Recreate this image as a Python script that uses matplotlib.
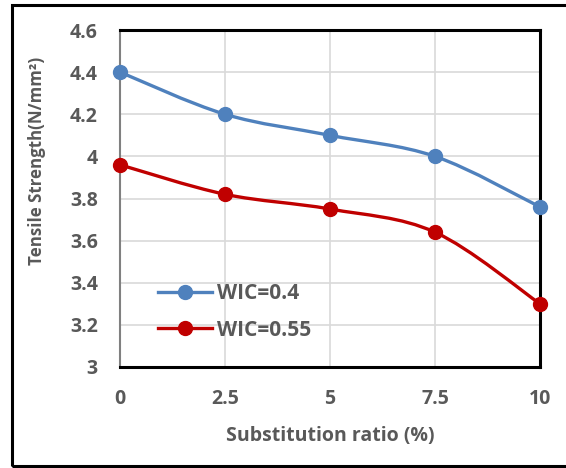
import numpy as np
import matplotlib
matplotlib.use("Agg")
import matplotlib.pyplot as plt
from matplotlib.path import Path
from matplotlib.patches import PathPatch, Rectangle
from matplotlib.lines import Line2D

plt.rcParams['font.family'] = ['Open Sans', 'DejaVu Sans']

ratio = [0, 2.5, 5, 7.5, 10]
ratio_labels = ["0", "2.5", "5", "7.5", "10"]
wc_040 = [4.40, 4.20, 4.10, 4.00, 3.76]
wc_055 = [3.96, 3.82, 3.75, 3.64, 3.30]
series_names = ["WIC=0.4", "WIC=0.55"]
series_colors = ["#4F81BD", "#C00000"]

text_col = "#595959"


def smooth_path(x, y):
    # Catmull-Rom through the points, written as cubic Bezier segments
    x = np.asarray(x, float)
    y = np.asarray(y, float)
    px = np.concatenate([[x[0]], x, [x[-1]]])
    py = np.concatenate([[y[0]], y, [y[-1]]])
    verts = [(x[0], y[0])]
    codes = [Path.MOVETO]
    for i in range(1, len(px) - 2):
        c1 = (px[i] + (px[i + 1] - px[i - 1]) / 6, py[i] + (py[i + 1] - py[i - 1]) / 6)
        c2 = (px[i + 1] - (px[i + 2] - px[i]) / 6, py[i + 1] - (py[i + 2] - py[i]) / 6)
        verts += [c1, c2, (px[i + 1], py[i + 1])]
        codes += [Path.CURVE4] * 3
    return Path(verts, codes)


fig = plt.figure(figsize=(5.66, 4.68), dpi=100)
fig.patches.append(Rectangle((12 / 566, 2 / 468), 1.0, 461 / 468, transform=fig.transFigure,
                             fill=False, edgecolor="black", linewidth=2.2))

ax = fig.add_axes([120 / 566, 101 / 468, 420 / 566, 337 / 468])
ax.set_xlim(0, 10)
ax.set_ylim(3, 4.6)
ax.set_xticks(ratio)
ax.set_xticklabels(ratio_labels)
ax.set_yticks(np.arange(3, 4.61, 0.2))
ax.set_yticklabels(["3", "3.2", "3.4", "3.6", "3.8", "4", "4.2", "4.4", "4.6"])
ax.grid(True, color="#D9D9D9", linewidth=1.2)
ax.set_axisbelow(True)
ax.tick_params(length=0, labelsize=14, labelcolor=text_col)
ax.tick_params(axis="x", pad=16)
ax.tick_params(axis="y", pad=16)
for lab in ax.get_xticklabels() + ax.get_yticklabels():
    lab.set_fontweight("bold")

for side in ["top", "right", "bottom"]:
    ax.spines[side].set_linewidth(2.2)
    ax.spines[side].set_color("black")
ax.spines["left"].set_linewidth(1.5)
ax.spines["left"].set_color("#808080")

handles = []
for yv, name, col in zip([wc_040, wc_055], series_names, series_colors):
    ax.add_patch(PathPatch(smooth_path(ratio, yv), fill=False, edgecolor=col,
                           linewidth=2.4, clip_on=False, zorder=3))
    ax.plot(ratio, yv, linestyle="none", marker="o", markersize=10, color=col,
            clip_on=False, zorder=4)
    handles.append(Line2D([], [], color=col, linewidth=2.4, marker="o", markersize=10))

leg = ax.legend(handles, series_names, loc="upper left", bbox_to_anchor=(0.045, 0.305),
                frameon=False, handlelength=2.6, handletextpad=0.25, labelspacing=0.75,
                prop={"size": 15, "weight": "bold"})
for t in leg.get_texts():
    t.set_color(text_col)

ax.set_xlabel("Substitution ratio (%)", fontsize=14, fontweight="bold", color=text_col, labelpad=12)
ax.set_ylabel("Tensile Strength(N/mm²)", fontsize=12.2, fontweight="bold", color=text_col)
ax.yaxis.set_label_coords(-0.176, 0.61)

fig.savefig("out.png", dpi=100)
